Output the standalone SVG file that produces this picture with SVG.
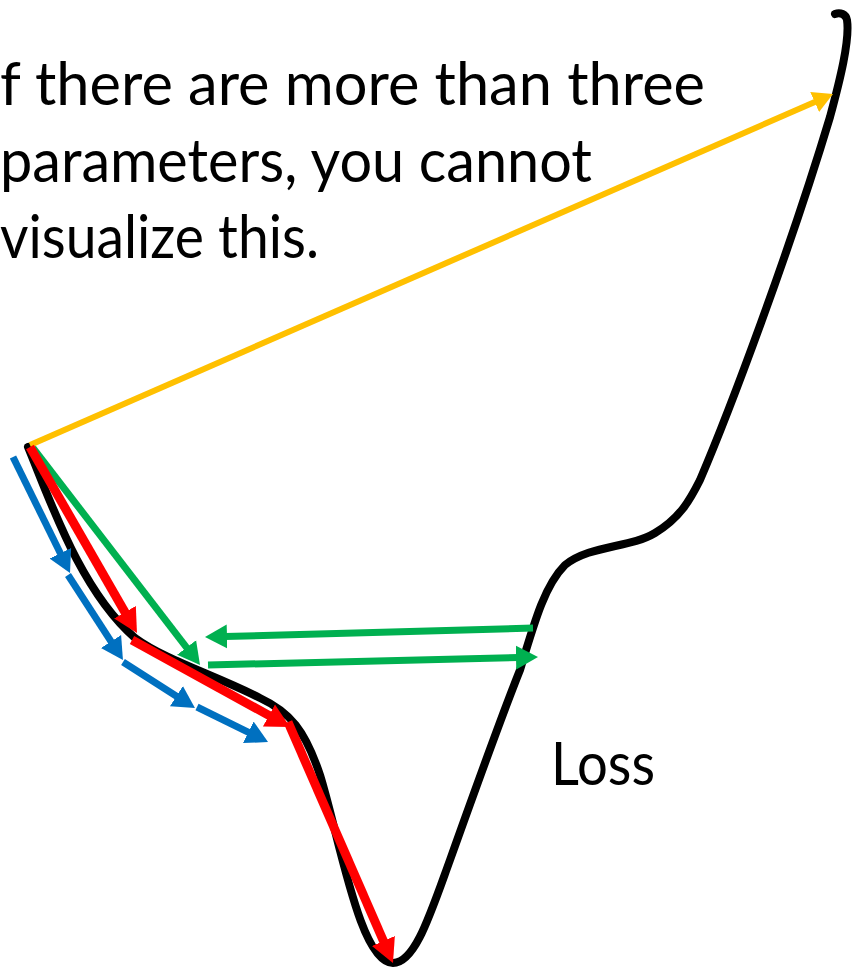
<svg xmlns="http://www.w3.org/2000/svg" width="852" height="969" viewBox="0 0 852 969">
<style>
  .txt { font-family: Lato, "Open Sans", "Liberation Sans", sans-serif; font-size: 60px; fill: #000; }
  .curve { fill: none; stroke: #000; stroke-width: 8; stroke-linecap: round; stroke-linejoin: round; }
  .y { stroke: #FFC000; stroke-width: 6; fill: none; }
  .r { stroke: #FF0000; stroke-width: 9; fill: none; }
  .b { stroke: #0070C0; stroke-width: 7; fill: none; }
  .g { stroke: #00B050; stroke-width: 7; fill: none; }
</style>
<defs>
  <marker id="ay" markerUnits="userSpaceOnUse" markerWidth="24" markerHeight="26" viewBox="0 -13 24 26" refX="2" refY="0" orient="auto"><path d="M0,-11 L20,0 L0,11 z" fill="#FFC000"/></marker>
  <marker id="ar" markerUnits="userSpaceOnUse" markerWidth="28" markerHeight="28" viewBox="0 -14 28 28" refX="2" refY="0" orient="auto"><path d="M0,-12.5 L24,0 L0,12.5 z" fill="#FF0000"/></marker>
  <marker id="ab" markerUnits="userSpaceOnUse" markerWidth="26" markerHeight="28" viewBox="0 -14 26 28" refX="2" refY="0" orient="auto"><path d="M0,-12 L22,0 L0,12 z" fill="#0070C0"/></marker>
  <marker id="ag" markerUnits="userSpaceOnUse" markerWidth="26" markerHeight="28" viewBox="0 -14 26 28" refX="2" refY="0" orient="auto"><path d="M0,-12 L22,0 L0,12 z" fill="#00B050"/></marker>
</defs>
<rect width="852" height="969" fill="#fff"/>

<g id="caption">
  <text class="txt" x="0" y="105" textLength="705" lengthAdjust="spacingAndGlyphs">f there are more than three</text>
  <text class="txt" x="0" y="182" textLength="592" lengthAdjust="spacingAndGlyphs">parameters, you cannot</text>
  <text class="txt" x="0" y="258" textLength="319" lengthAdjust="spacingAndGlyphs">visualize this.</text>
</g>

<g id="loss-curve">
  <path class="curve" d="M28,447 C50,500 80,590 135,638 C165,660 215,675 260,698 C290,712 305,730 320,775 C340,840 360,963 393,963 C415,963 430,915 450,860 C475,790 500,720 520,670 C535,620 545,585 565,565 C590,545 630,548 655,533 C680,518 690,500 700,480 C730,410 790,250 830,117 C840,80 850,40 847,20 C846,14 840,12 835,14"/>
</g>

<g id="loss-label">
  <text class="txt" x="551" y="785" textLength="104" lengthAdjust="spacingAndGlyphs">Loss</text>
</g>

<g id="connectors">
  <line class="y" x1="30" y1="445" x2="816.5" y2="101.2" marker-end="url(#ay)"/>
  <line class="b" x1="13" y1="457" x2="61.2" y2="555" marker-end="url(#ab)"/>
  <line class="b" x1="68" y1="575" x2="112.1" y2="643.2" marker-end="url(#ab)"/>
  <line class="b" x1="123" y1="662" x2="178.1" y2="697.2" marker-end="url(#ab)"/>
  <line class="b" x1="197" y1="707" x2="250.1" y2="733.2" marker-end="url(#ab)"/>
  <line class="g" x1="33" y1="448" x2="187.8" y2="649.1" marker-end="url(#ag)"/>
  <line class="g" x1="533" y1="628" x2="225" y2="636.5" marker-end="url(#ag)"/>
  <line class="g" x1="208" y1="665" x2="518" y2="657.5" marker-end="url(#ag)"/>
  <line class="r" x1="30" y1="447" x2="126" y2="613.9" marker-end="url(#ar)"/>
  <line class="r" x1="132" y1="640" x2="270.7" y2="716.4" marker-end="url(#ar)"/>
  <line class="r" x1="288" y1="722" x2="384.2" y2="942.8" marker-end="url(#ar)"/>
</g>
</svg>
